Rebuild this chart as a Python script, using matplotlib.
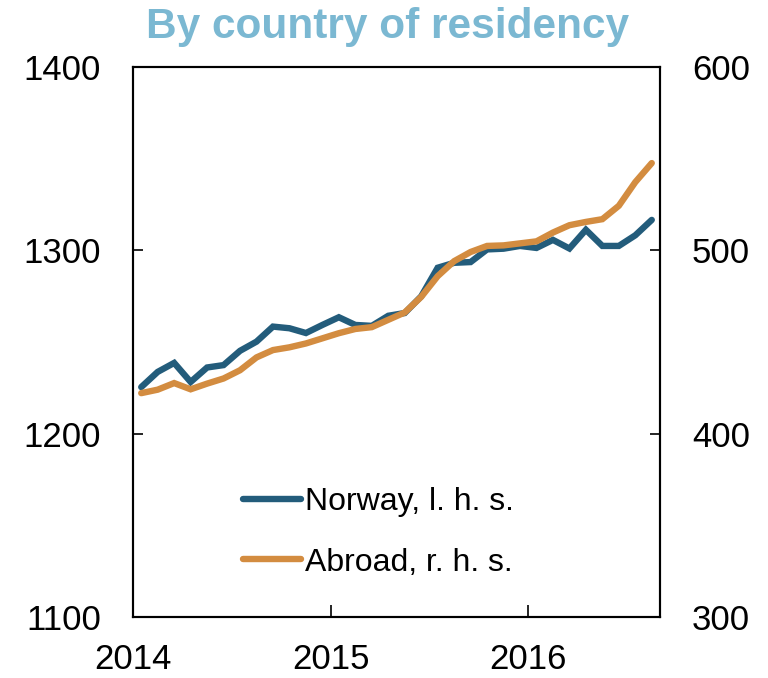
import matplotlib
matplotlib.use("Agg")
import matplotlib.pyplot as plt
import numpy as np

# Monthly data, Jan 2014 - Aug 2016
months = ["2014-01", "2014-02", "2014-03", "2014-04", "2014-05", "2014-06",
          "2014-07", "2014-08", "2014-09", "2014-10", "2014-11", "2014-12",
          "2015-01", "2015-02", "2015-03", "2015-04", "2015-05", "2015-06",
          "2015-07", "2015-08", "2015-09", "2015-10", "2015-11", "2015-12",
          "2016-01", "2016-02", "2016-03", "2016-04", "2016-05", "2016-06",
          "2016-07", "2016-08"]
norway = [1225.4, 1233.7, 1238.6, 1228.2, 1236.1, 1237.4, 1245.2, 1250.2,
          1258.4, 1257.5, 1254.9, 1259.3, 1263.5, 1259.3, 1258.8, 1264.3,
          1265.8, 1274.9, 1290.5, 1293.2, 1293.6, 1300.5, 1300.9, 1302.4,
          1301.3, 1305.7, 1301.0, 1311.2, 1302.4, 1302.4, 1308.2, 1316.6]
abroad = [422.1, 424.0, 427.6, 424.2, 427.3, 430.1, 434.6, 441.6,
          445.6, 447.1, 449.2, 452.0, 454.8, 457.1, 458.1, 462.1,
          466.1, 474.6, 485.9, 494.1, 499.1, 502.4, 502.7, 503.8,
          504.9, 509.7, 513.7, 515.5, 517.0, 524.3, 537.2, 547.6]
labels = ["Norway, l. h. s.", "Abroad, r. h. s."]
title = "By country of residency"
year_ticks = [2014, 2015, 2016]

x = np.array([int(m[:4]) + (int(m[5:]) - 0.5) / 12 for m in months])

plt.rcParams['font.family'] = ['Liberation Sans', 'DejaVu Sans']

BLUE = "#235c7b"
ORANGE = "#d38c40"
TITLE_C = "#7bb8d2"

fig = plt.figure(figsize=(7.68, 6.78), dpi=100)
ax = fig.add_axes([133/768, 1-617/678, (660-133)/768, (617-67)/678])
ax2 = ax.twinx()

l1, = ax.plot(x, norway, color=BLUE, lw=4.6, solid_capstyle='round',
              solid_joinstyle='miter', label=labels[0])
l2, = ax2.plot(x, abroad, color=ORANGE, lw=4.6, solid_capstyle='round',
               solid_joinstyle='miter', label=labels[1])

ax.set_xlim(2014, 2014 + 32/12)
ax.set_ylim(1100, 1400)
ax2.set_ylim(300, 600)
ax.set_yticks([1100, 1200, 1300, 1400])
ax2.set_yticks([300, 400, 500, 600])
ax.set_xticks(year_ticks)
ax.set_xticklabels([str(y) for y in year_ticks])

for a in (ax, ax2):
    for s in a.spines.values():
        s.set_linewidth(1.5)
        s.set_color('black')

ax.tick_params(axis='y', direction='in', length=7.5, width=1.2, pad=23,
               labelsize=25, right=False)
ax.tick_params(axis='x', direction='in', length=9, width=1.2, pad=19,
               labelsize=25, top=False)
ax2.tick_params(axis='y', direction='in', length=7.5, width=1.2, pad=23,
                labelsize=25, left=False)

fig.text(388/768, 1-38/678, title, ha='center', va='baseline',
         fontsize=30.5, fontweight='bold', color=TITLE_C)

leg = fig.legend([l1, l2], labels, loc='center left',
                 bbox_to_anchor=(243/768, 1-532.5/678), frameon=False,
                 fontsize=23, handlelength=1.8, handletextpad=0.15,
                 labelspacing=0.95, borderpad=0, borderaxespad=0)

fig.savefig("out.png", dpi=100)
